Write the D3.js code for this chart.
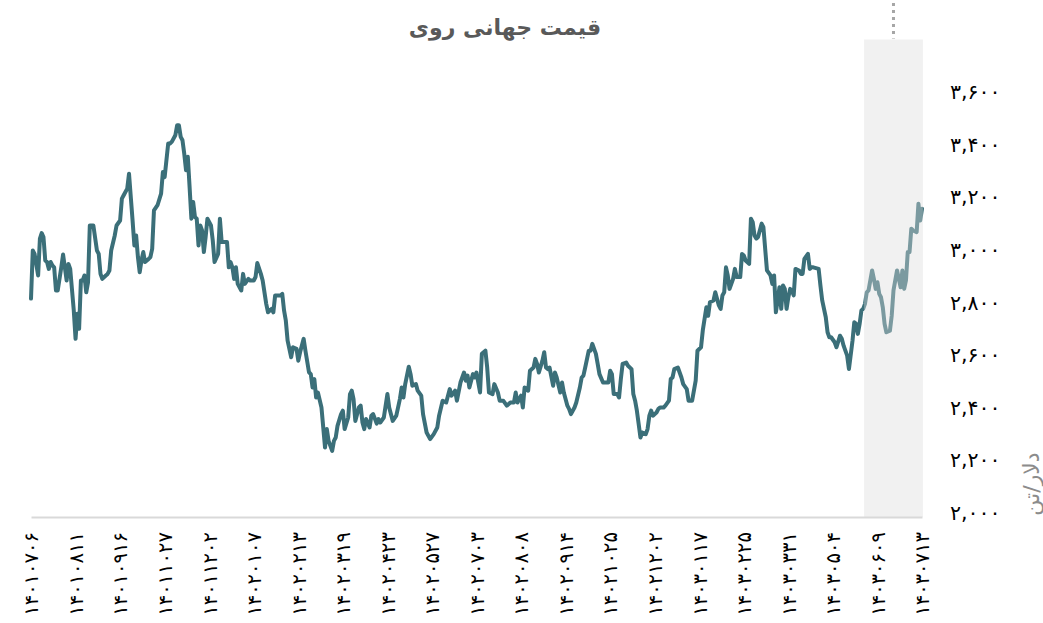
<!DOCTYPE html>
<html lang="fa">
<head>
<meta charset="utf-8">
<title>قیمت جهانی روی</title>
<script src="https://cdn.jsdelivr.net/npm/d3@7"></script>
<style>
  html, body { margin: 0; padding: 0; background: #ffffff; }
  svg { display: block; font-family: "DejaVu Sans", sans-serif; }
</style>
</head>
<body>
<svg id="chart" width="1043" height="623"></svg>
<script>
// Zinc world price (USD per tonne), indexed by trading day
const tradingDay = [
  0,1,2,4,5,6,7,8,9,10,11,12,13,14,15,17,18,20,21,22,24,25,26,27,28,29,30,31,32,33,35,37,38,39,40,42,43,44,45,47,48,
  50,51,52,54,55,56,57,58,59,60,61,62,63,64,66,67,68,69,71,73,74,75,77,78,79,81,82,83,84,85,86,87,88,89,90,91,92,93,94,
  95,96,97,98,99,101,102,103,105,106,107,109,110,111,112,113,114,115,116,118,119,120,122,123,125,126,127,129,130,132,133,
  135,136,137,140,141,142,143,144,146,147,149,150,151,153,154,156,157,158,159,160,161,163,164,165,166,167,169,170,171,172,
  174,175,176,178,179,180,181,182,184,185,186,187,188,190,191,192,194,195,196,198,200,201,203,205,207,208,209,210,212,213,
  214,216,217,219,220,222,224,226,228,229,231,233,235,236,238,239,241,243,244,245,246,248,249,250,252,253,255,256,257,259,
  260,262,263,265,267,269,271,272,273,275,276,277,279,280,282,283,284,285,287,288,289,290,291,293,294,295,297,298,299,301,
  302,303,305,306,308,309,310,311,313,314,315,317,318,319,321,323,324,325,326,327,329,330,331,332,334,335,337,338,339,340,
  341,342,343,345,346,347,348,349,351,352,353,355,356,358,359,360,361,363,364,365,366,368,369,371,373,374,376,377,379,380,
  381,383,384,386,387,388,389,390,391,392,394,395,396,398,399,400,401,403,404,405,406,407,408,410,411,412,413,415,416,417,
  418,419,420,421,422,423,424,425,426,427,428,429,431,432,433,434,436,437,438,439,442,443,444,446,447,448,449,451,452,454,
  455,456,458,459,461,462,463,464,465,466,467,468,469,470,472,473,474,475,476,477,478,479,480,482,483,484,486,487,488,489,
  490,491,492,493,494,495,497,498,499,500
];
const zincPrice = [
  2815,2998,2985,2903,3043,3064,3049,2960,2954,2928,2954,2941,2934,2846,2846,2934,2983,2884,2947,2928,2770,2662,2757,2700,2884,2884,2903,2839,2877,3093,3093,2998,2985,2909,2890,2903,2909,2922,2998,3055,3093,
  3112,3195,3208,3233,3290,3201,3112,3017,3055,2973,2915,2960,2992,2954,2966,2973,3004,3150,3170,3214,3296,3277,3405,3405,3411,3436,3474,3474,3430,3417,3366,3303,3354,3239,3119,3182,3125,3119,3017,
  3093,3074,2992,3049,3119,3093,3036,2954,2985,3119,3030,3030,3030,2934,2954,2934,2890,2934,2871,2846,2909,2871,2890,2884,2884,2897,2950,2909,2884,2795,2763,
  2776,2763,2827,2827,2833,2770,2731,2655,2592,2630,2624,2579,2611,2662,2617,2535,2528,2477,2509,2439,2458,2401,2325,2249,2319,2274,2236,2274,2287,2331,
  2376,2389,2319,2363,2452,2465,2433,2350,2401,2408,2344,2319,2357,2325,2370,2376,2340,2357,2344,2363,2452,2401,2350,2370,2433,2477,2439,2490,2556,2528,
  2484,2490,2465,2446,2376,2306,2281,2300,2325,2370,2427,2420,2471,2446,2465,2427,2496,2534,2503,2522,2477,2528,2515,2534,2458,2605,2617,2553,2458,2452,
  2490,2458,2427,2427,2408,2420,2420,2458,2420,2446,2401,2477,2465,2541,2553,2586,2567,2534,2579,2611,2553,2547,2553,2484,2534,2515,2458,2496,2458,2408,
  2395,2376,2401,2420,2477,2515,2522,2553,2617,2617,2643,2605,2567,2528,2496,2496,2496,2541,2528,2452,2452,2439,2509,2567,2572,2560,2547,2452,2427,2389,
  2338,2287,2306,2300,2319,2370,2389,2370,2382,2395,2401,2401,2408,2427,2509,2515,2547,2553,2534,2515,2490,2471,2427,2427,2503,2617,2630,2695,2782,2750,
  2801,2808,2839,2789,2776,2827,2839,2934,2903,2852,2890,2928,2897,2897,2985,2979,2960,2947,3119,3106,3055,3043,3049,3100,3087,3004,2922,2903,2871,2903,
  2763,2808,2858,2776,2865,2852,2776,2820,2852,2846,2827,2928,2922,2909,2909,2966,2985,2928,2934,2934,2928,2865,2808,2744,2687,2668,2668,2649,2630,2674,
  2662,2636,2598,2547,2655,2725,2719,2681,2719,2770,2776,2795,2839,2846,2922,2890,2852,2877,2833,2820,2782,2719,2687,2693,2750,2846,2922,2890,2858,2922,
  2852,2884,2992,2992,3081,3074,3068,3176,3112,3157
];

// Date labels shown every 25 trading days
const tickDays = d3.range(0, 501, 25);
const tickLabels = [
  "۱۴۰۱۰۷۰۶","۱۴۰۱۰۸۱۱","۱۴۰۱۰۹۱۶","۱۴۰۱۱۰۲۷","۱۴۰۱۱۲۰۲","۱۴۰۲۰۱۰۷","۱۴۰۲۰۲۱۳",
  "۱۴۰۲۰۳۱۹","۱۴۰۲۰۴۲۳","۱۴۰۲۰۵۲۷","۱۴۰۲۰۷۰۳","۱۴۰۲۰۸۰۸","۱۴۰۲۰۹۱۴","۱۴۰۲۱۰۲۵",
  "۱۴۰۲۱۲۰۲","۱۴۰۳۰۱۱۷","۱۴۰۳۰۲۲۵","۱۴۰۳۰۳۳۱","۱۴۰۳۰۵۰۴","۱۴۰۳۰۶۰۹","۱۴۰۳۰۷۱۳"
];
const priceTicks = [2000, 2200, 2400, 2600, 2800, 3000, 3200, 3400, 3600];

// Highlighted recent period (trading-day span)
const highlightSpan = [467.5, 500.5];

const titleText = "قیمت جهانی روی";
const unitText = "دلار/تن";

const svg = d3.select("#chart");

const x = d3.scaleLinear().domain([0, 500]).range([31, 922]);
const y = d3.scaleLinear().domain([2000, 3800]).range([513, 39.5]);

const persianDigits = s => String(s).replace(/\d/g, d => "۰۱۲۳۴۵۶۷۸۹"[+d]);
const fmt = d3.format(",");

const series = tradingDay.map((d, i) => ({ day: d, price: zincPrice[i] }));

// Price line
const line = d3.line().x(d => x(d.day)).y(d => y(d.price));
svg.append("path")
  .datum(series)
  .attr("fill", "none")
  .attr("stroke", "#3b6f79")
  .attr("stroke-width", 4)
  .attr("stroke-linejoin", "round")
  .attr("stroke-linecap", "round")
  .attr("d", line);

// Highlight band drawn over the line so it fades the recent stretch
const bandX0 = x(highlightSpan[0]);
const bandX1 = x(highlightSpan[1]);
svg.append("rect")
  .attr("x", bandX0)
  .attr("y", y(3800))
  .attr("width", bandX1 - bandX0)
  .attr("height", 517 - y(3800))
  .attr("fill", "#dcdcdc")
  .attr("fill-opacity", 0.4);

// Dotted marker above the band
svg.append("line")
  .attr("x1", (bandX0 + bandX1) / 2)
  .attr("x2", (bandX0 + bandX1) / 2)
  .attr("y1", 3)
  .attr("y2", y(3800) - 1)
  .attr("stroke", "#a6a6a6")
  .attr("stroke-width", 3)
  .attr("stroke-dasharray", "3,4");

// X axis
const xAxis = d3.axisBottom(x)
  .tickValues(tickDays)
  .tickSize(0)
  .tickFormat((d, i) => tickLabels[i]);

const gx = svg.append("g")
  .attr("transform", "translate(0,517)")
  .call(xAxis);
gx.select(".domain").attr("stroke", "#d9d9d9").attr("stroke-width", 2);
gx.selectAll("text")
  .attr("transform", "rotate(-90)")
  .attr("x", -15)
  .attr("y", 0)
  .attr("dy", "0.35em")
  .attr("text-anchor", "end")
  .attr("fill", "#000")
  .style("font-size", "19.5px")
  .style("font-family", "'DejaVu Sans', sans-serif");

// Y axis on the right
const yAxis = d3.axisRight(y)
  .tickValues(priceTicks)
  .tickSize(0)
  .tickPadding(10)
  .tickFormat(d => persianDigits(fmt(d)));

const gy = svg.append("g")
  .attr("transform", "translate(940,0)")
  .call(yAxis);
gy.select(".domain").remove();
gy.selectAll("text")
  .attr("fill", "#000")
  .style("font-size", "20.5px")
  .style("font-family", "'DejaVu Sans', sans-serif");

// Unit label
svg.append("text")
  .attr("transform", `translate(1031,${484}) rotate(-90)`)
  .attr("text-anchor", "middle")
  .attr("dy", "0.35em")
  .attr("fill", "#8c8c8c")
  .style("font-size", "22px")
  .text(unitText);

// Title
svg.append("text")
  .attr("x", 505)
  .attr("y", 27)
  .attr("dy", "0.35em")
  .attr("text-anchor", "middle")
  .attr("fill", "#595959")
  .style("font-size", "22px")
  .style("font-weight", "bold")
  .text(titleText);
</script>
</body>
</html>
